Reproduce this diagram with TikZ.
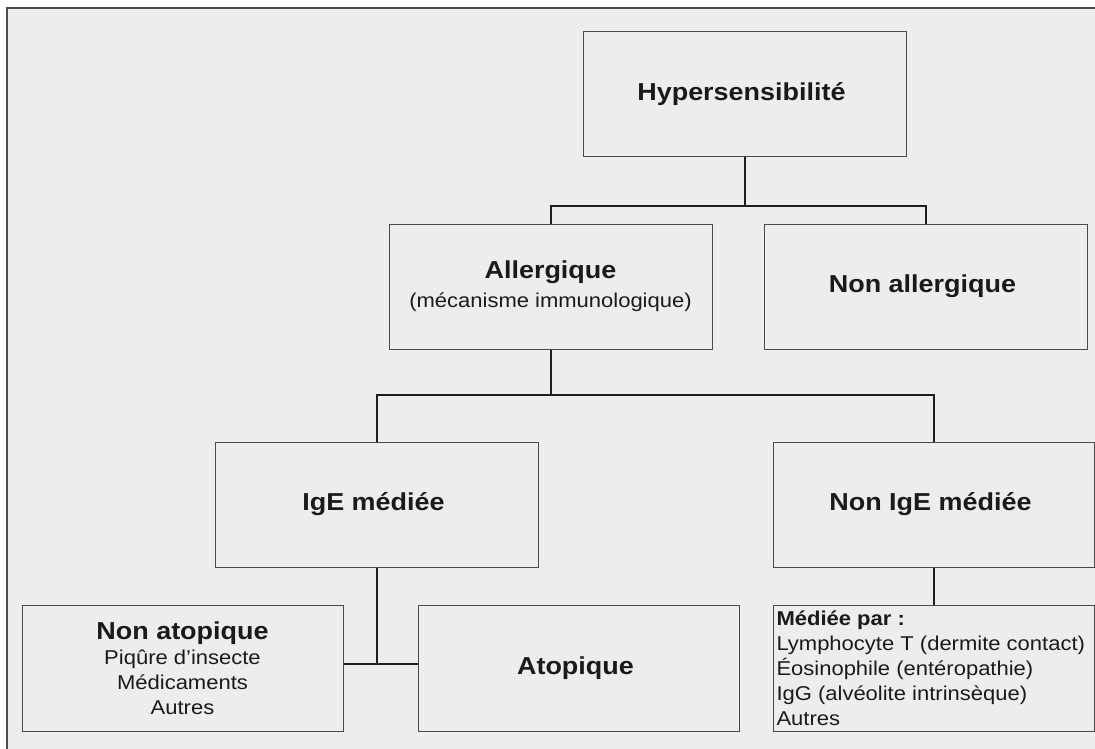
\documentclass[tikz,border=0pt]{standalone}
\usepackage{fontspec}
\setmainfont{Liberation Sans}[FakeStretch=1.1]
\usetikzlibrary{positioning,calc}
\definecolor{bggray}{HTML}{EDEDED}
\definecolor{boxline}{HTML}{4A4A4A}
\definecolor{linkcol}{HTML}{1E1E1E}
\definecolor{textcol}{HTML}{1A1A1A}
\newcommand{\headfont}{\fontsize{24.5}{29}\selectfont\bfseries}
\newcommand{\bodyfont}{\fontsize{20}{25}\selectfont}
\tikzset{
	block/.style={draw=boxline, line width=1pt, fill=bggray, text=textcol,
		minimum width=323pt, minimum height=125pt, inner sep=0pt,
		align=center, font=\bodyfont},
	link/.style={draw=linkcol, line width=2pt}
}

\begin{document}
\begin{tikzpicture}[x=1pt, y=-1pt]
	\useasboundingbox (0,0) rectangle (1095,749);
	% outer frame
	\draw[line width=2pt, draw=linkcol!80, fill=bggray] (7,8) rectangle (1120,770);
	
	% draw rectangle node
	\node[block] (hyper) at (744.5,94.5) {
	{\headfont Hypersensibilité}
	};
	\node[block] (allerg) at (550.5,286.5) {
	{\headfont Allergique}\\[4pt]
	(mécanisme immunologique)
	};
	\node[block] (nonallerg) at (925.5,286.5) {
	{\headfont Non allergique}
	};
	\node[block] (ige) at (376.5,504.5) {
	{\headfont IgE médiée}
	};
	\node[block, minimum width=321pt] (nonige) at (933.5,504.5) {
	{\headfont Non IgE médiée}
	};
	\node[block, minimum width=321pt, minimum height=126pt] (nonatop) at (182.5,668) {
	{\headfont Non atopique}\\
	Piqûre d’insecte\\
	Médicaments\\
	Autres
	};
	\node[block, minimum width=321pt, minimum height=126pt] (atop) at (578.5,668) {
	{\headfont Atopique}
	};
	\node[block, minimum width=321pt, minimum height=126pt,
	text width=314pt, inner xsep=3.5pt, align=flush left] (mediee) at (933.5,668) {
	\textbf{Médiée par :}\\
	Lymphocyte T (dermite contact)\\
	Éosinophile (entéropathie)\\
	IgG (alvéolite intrinsèque)\\
	Autres
	};
	
	% Connectors
	\coordinate (b1) at (744.5,206);
	\coordinate (b2) at (550.5,395);
	\coordinate (b3) at (376.5,664);
	\draw[link] (hyper.south) -- (b1);
	\draw[link] (allerg.north) |- (b1) -| (nonallerg.north);
	\draw[link] (allerg.south) -- (b2);
	\draw[link] (ige.north) |- (b2) -| (nonige.north);
	\draw[link] (ige.south) -- (b3);
	\draw[link] (nonatop.east |- b3) -- (atop.west |- b3);
	\draw[link] (nonige.south) -- (mediee.north);
\end{tikzpicture}
\end{document}
